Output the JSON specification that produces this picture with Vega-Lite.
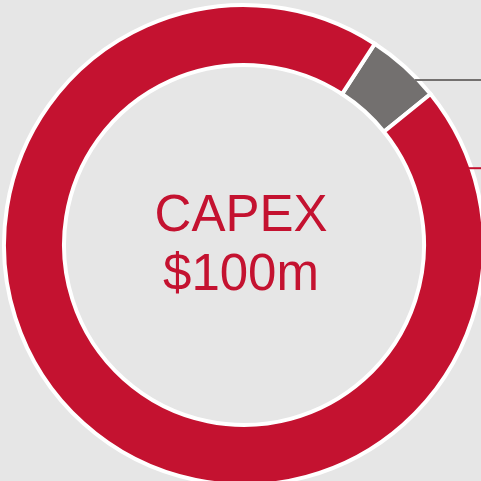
{
  "$schema": "https://vega.github.io/schema/vega-lite/v6.json",
  "autosize": "none",
  "padding": 0,
  "width": 488,
  "height": 490,
  "background": "#e6e6e6",
  "config": {"view": {"stroke": null}},
  "layer": [
    {
      "data": {"values": [
        {"segment": "Other", "value": 5, "idx": 1},
        {"segment": "Main", "value": 95, "idx": 2}
      ]},
      "mark": {"type": "arc", "outerRadius": 240, "innerRadius": 180, "stroke": "white", "strokeWidth": 4},
      "encoding": {
        "theta": {"field": "value", "type": "quantitative", "stack": true, "scale": {"range": [0.576, 6.8592]}},
        "order": {"field": "idx", "type": "quantitative"},
        "color": {"field": "segment", "type": "nominal", "scale": {"domain": ["Other", "Main"], "range": ["#73706f", "#c41230"]}, "legend": null}
      }
    },
    {
      "data": {"values": [
        {"line": "Other", "x": 0.7125, "x2": 1.02, "y": 0.6875},
        {"line": "Main", "x": 0.933, "x2": 1.02, "y": 0.32}
      ]},
      "mark": {"type": "rule", "strokeWidth": 2},
      "encoding": {
        "x": {"field": "x", "type": "quantitative", "scale": {"domain": [-1.01667, 1.01667]}, "axis": null},
        "x2": {"field": "x2"},
        "y": {"field": "y", "type": "quantitative", "scale": {"domain": [-1.02083, 1.02083]}, "axis": null},
        "color": {"field": "line", "type": "nominal", "scale": {"domain": ["Other", "Main"], "range": ["#7a7878", "#c41230"]}, "legend": null}
      }
    },
    {
      "data": {"values": [{"label": "CAPEX\n$100m"}]},
      "mark": {"type": "text", "lineBreak": "\n", "baseline": "alphabetic", "align": "center", "dx": -3, "dy": -14, "lineHeight": 59, "font": "Liberation Sans", "fontSize": 51, "color": "#c41230"},
      "encoding": {"text": {"field": "label", "type": "nominal"}}
    }
  ]
}
